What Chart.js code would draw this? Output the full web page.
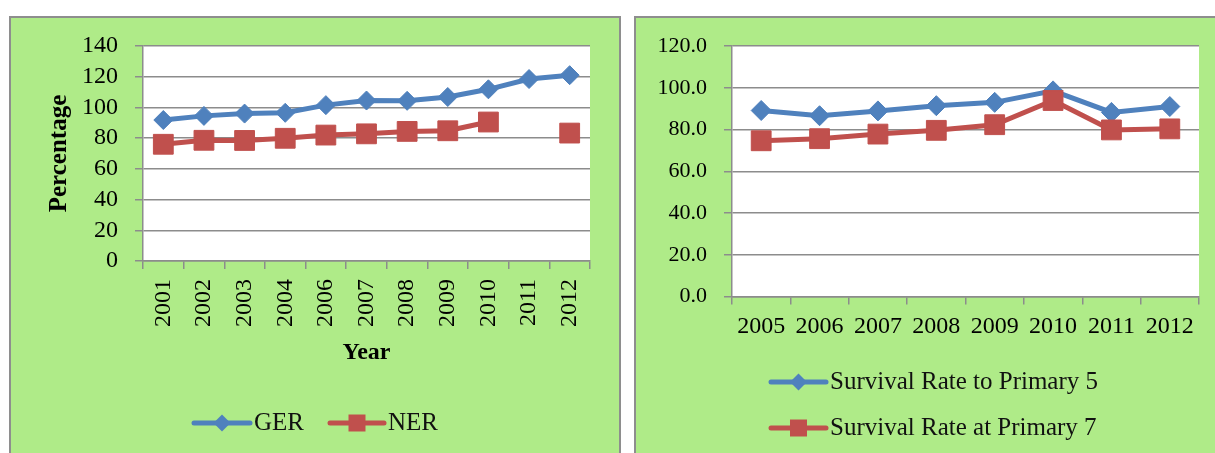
<!DOCTYPE html>
<html>
<head>
<meta charset="utf-8">
<script src="https://cdn.jsdelivr.net/npm/chart.js@4.4.1/dist/chart.umd.min.js"></script>
<style>
  html, body { margin: 0; padding: 0; background: #fff; width: 1215px; height: 453px; overflow: hidden; position: relative; }
  .panel { position: absolute; background: #afeb88; border: 2px solid #8e8e8e; box-sizing: border-box; }
  #leftPanel { left: 9px; top: 16px; width: 612px; height: 450px; }
  #rightPanel { left: 634px; top: 16px; width: 620px; height: 450px; }
  canvas { position: absolute; top: 0; }
  #enrolChart { left: 0; }
  #survivalChart { left: 622px; }
</style>
</head>
<body>
<div class="panel" id="leftPanel"></div>
<div class="panel" id="rightPanel"></div>
<canvas id="enrolChart" width="622" height="453"></canvas>
<canvas id="survivalChart" width="593" height="453"></canvas>
<script>
// Enrolment ratios (GER / NER)
const enrolYears = ['2001', '2002', '2003', '2004', '2006', '2007', '2008', '2009', '2010', '2011', '2012'];
const gerValues = [91.8, 94.5, 96.0, 96.5, 101.5, 104.5, 104.3, 106.8, 111.8, 118.5, 121.0];
const nerValues = [76.0, 78.6, 78.5, 79.9, 82.0, 82.8, 84.4, 84.8, 90.5, null, 83.3];
const enrolTicks = [0, 20, 40, 60, 80, 100, 120, 140];

// Survival rates
const survivalYears = ['2005', '2006', '2007', '2008', '2009', '2010', '2011', '2012'];
const primary5Values = [89.1, 86.6, 88.9, 91.4, 93.0, 98.5, 88.2, 91.0];
const primary7Values = [74.6, 75.6, 77.8, 79.6, 82.3, 93.9, 79.8, 80.3];
const survivalTicks = [0, 20, 40, 60, 80, 100, 120];

const BLUE = '#4f81bd';
const RED = '#c0504d';
const GRID = '#8c8c8c';
const SERIF = "'Liberation Serif', 'DejaVu Serif', serif";

Chart.defaults.font.family = SERIF;
Chart.defaults.color = '#000';

// White plotting area behind the grid
const plotBackground = {
  id: 'plotBackground',
  beforeDraw(chart) {
    const { ctx, chartArea: a } = chart;
    ctx.save();
    ctx.fillStyle = '#ffffff';
    ctx.fillRect(a.left, a.top, a.right - a.left, a.bottom - a.top);
    ctx.restore();
  }
};

// Legend entries drawn as a line segment with the series marker in the middle
const lineLegend = {
  id: 'lineLegend',
  afterDraw(chart, args, opts) {
    const ctx = chart.ctx;
    ctx.save();
    ctx.font = opts.font;
    ctx.textBaseline = 'middle';
    ctx.textAlign = 'left';
    chart.data.datasets.forEach((ds, i) => {
      const it = opts.items[i];
      if (!it) return;
      ctx.strokeStyle = ds.borderColor;
      ctx.lineWidth = 5;
      ctx.lineCap = 'round';
      ctx.beginPath();
      ctx.moveTo(it.x0, it.y);
      ctx.lineTo(it.x1, it.y);
      ctx.stroke();
      const cx = (it.x0 + it.x1) / 2;
      ctx.fillStyle = ds.borderColor;
      ctx.beginPath();
      if (ds.pointStyle === 'rectRot') {
        const r = 8.5;
        ctx.moveTo(cx - r, it.y);
        ctx.lineTo(cx, it.y - r);
        ctx.lineTo(cx + r, it.y);
        ctx.lineTo(cx, it.y + r);
        ctx.closePath();
      } else {
        const s = 17;
        ctx.rect(cx - s / 2, it.y - s / 2, s, s);
      }
      ctx.fill();
      ctx.fillStyle = '#111';
      ctx.fillText(ds.label, it.x1 + 4, it.y);
    });
    ctx.restore();
  }
};

function series(label, data, color, style, radius, order) {
  return {
    label: label,
    data: data,
    borderColor: color,
    backgroundColor: color,
    pointBackgroundColor: color,
    pointBorderColor: color,
    pointBorderWidth: 1,
    pointStyle: style,
    pointRadius: radius,
    pointHoverRadius: radius,
    borderWidth: 5,
    tension: 0,
    spanGaps: false,
    order: order
  };
}

function fixedTicks(values) {
  return function (scale) {
    scale.ticks = values.map(v => ({ value: v }));
  };
}

// Left: gross and net enrolment ratio
new Chart(document.getElementById('enrolChart'), {
  type: 'line',
  data: {
    labels: enrolYears,
    datasets: [
      series('GER', gerValues, BLUE, 'rectRot', 9.5, 2),
      series('NER', nerValues, RED, 'rect', 14, 1)
    ]
  },
  plugins: [plotBackground, lineLegend],
  options: {
    responsive: false,
    animation: false,
    events: [],
    layout: { padding: { left: 45, top: 46, right: 32, bottom: 86 } },
    plugins: {
      legend: { display: false },
      tooltip: { enabled: false },
      lineLegend: {
        font: '25px ' + SERIF,
        items: [
          { x0: 194, x1: 250, y: 423 },
          { x0: 330, x1: 384, y: 423 }
        ]
      }
    },
    scales: {
      x: {
        offset: true,
        grid: { offset: true, drawOnChartArea: false, drawTicks: true, tickLength: 8, color: GRID, lineWidth: 1.5 },
        border: { color: GRID, width: 1.5 },
        ticks: { minRotation: 90, maxRotation: 90, autoSkip: false, padding: 10, font: { size: 24 }, color: '#000' },
        title: { display: true, text: 'Year', font: { size: 24, weight: 'bold' }, padding: { top: 0, bottom: 0 }, color: '#000' },
        afterFit(s) { s.height = 106; }
      },
      y: {
        min: 0,
        max: 140,
        afterBuildTicks: fixedTicks(enrolTicks),
        grid: { drawTicks: true, tickLength: 8, color: GRID, lineWidth: 1.5 },
        border: { color: GRID, width: 1.5 },
        ticks: { autoSkip: false, padding: 17, font: { size: 24 }, color: '#000' },
        title: { display: true, text: 'Percentage', font: { size: 25, weight: 'bold' }, padding: { top: 0, bottom: 0 }, color: '#000' },
        afterFit(s) { s.width = 98; }
      }
    }
  }
});

// Right: survival rates to Primary 5 and at Primary 7
new Chart(document.getElementById('survivalChart'), {
  type: 'line',
  data: {
    labels: survivalYears,
    datasets: [
      series('Survival Rate to Primary 5', primary5Values, BLUE, 'rectRot', 10, 2),
      series('Survival Rate at Primary 7', primary7Values, RED, 'rect', 14, 1)
    ]
  },
  plugins: [plotBackground, lineLegend],
  options: {
    responsive: false,
    animation: false,
    events: [],
    layout: { padding: { left: 0, top: 46, right: 16, bottom: 96.5 } },
    plugins: {
      legend: { display: false },
      tooltip: { enabled: false },
      lineLegend: {
        font: '25px ' + SERIF,
        items: [
          { x0: 149, x1: 204, y: 382 },
          { x0: 149, x1: 204, y: 428 }
        ]
      }
    },
    scales: {
      x: {
        offset: true,
        grid: { offset: true, drawOnChartArea: false, drawTicks: true, tickLength: 8, color: GRID, lineWidth: 1.5 },
        border: { color: GRID, width: 1.5 },
        ticks: { minRotation: 0, maxRotation: 0, autoSkip: false, padding: 8, font: { size: 24 }, color: '#000' },
        afterFit(s) { s.height = 60; }
      },
      y: {
        min: 0,
        max: 120,
        afterBuildTicks: fixedTicks(survivalTicks),
        grid: { drawTicks: true, tickLength: 8, color: GRID, lineWidth: 1.5 },
        border: { color: GRID, width: 1.5 },
        ticks: { autoSkip: false, padding: 17, font: { size: 22 }, color: '#000', callback: v => Number(v).toFixed(1) },
        afterFit(s) { s.width = 110; }
      }
    }
  }
});
</script>
</body>
</html>
